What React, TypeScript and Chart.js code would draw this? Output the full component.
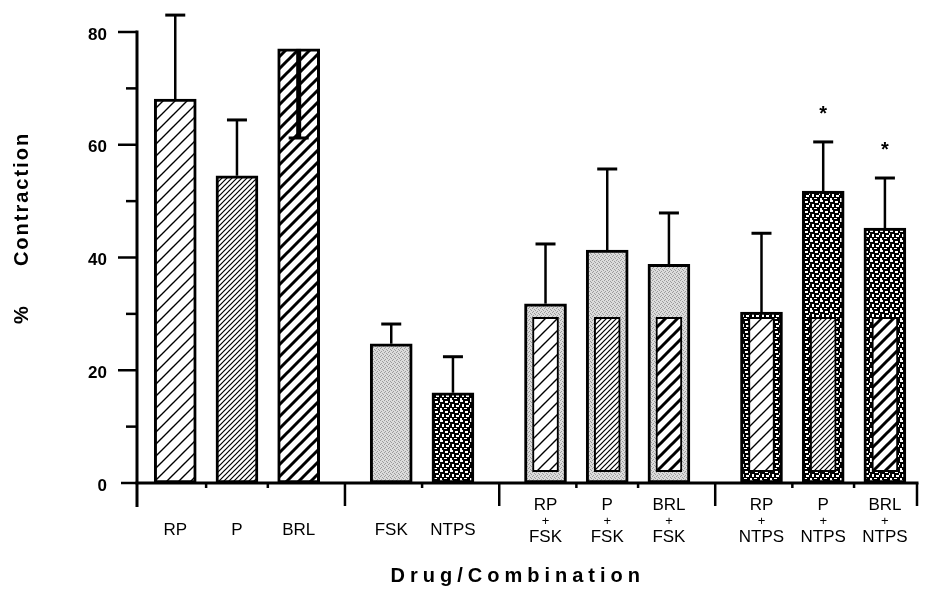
import React, { useEffect, useRef } from "react";
import { Chart, registerables } from "chart.js";

Chart.register(...registerables);

// ---------------- DATA ----------------
const groups: string[][] = [
  ["RP", "P", "BRL"],
  ["FSK", "NTPS"],
  ["RP+FSK", "P+FSK", "BRL+FSK"],
  ["RP+NTPS", "P+NTPS", "BRL+NTPS"],
];
const categories: string[] = groups.flat();
const tickLabels: string[][] = [
  ["RP"], ["P"], ["BRL"],
  ["FSK"], ["NTPS"],
  ["RP", "+", "FSK"], ["P", "+", "FSK"], ["BRL", "+", "FSK"],
  ["RP", "+", "NTPS"], ["P", "+", "NTPS"], ["BRL", "+", "NTPS"],
];
const contraction: number[] = [68.1, 54.5, 77.0, 24.7, 16.0, 31.8, 41.3, 38.8, 30.3, 51.8, 45.2];
const sem: number[] = [14.9, 9.9, 15.8, 3.5, 6.4, 10.6, 14.4, 9.1, 14.0, 8.7, 8.9];
const semDirection: number[] = [1, 1, -1, 1, 1, 1, 1, 1, 1, 1, 1];
const significant: boolean[] = [false, false, false, false, false, false, false, false, false, true, true];
const innerLow: (number | null)[] = [null, null, null, null, null, 2, 2, 2, 2, 2, 2];
const innerHigh: (number | null)[] = [null, null, null, null, null, 29.4, 29.4, 29.4, 29.4, 29.4, 29.4];
const yTickValues: number[] = [0, 20, 40, 60, 80];
const yMinorTickValues: number[] = [10, 30, 50, 70];
const yTitle = "Contraction";
const yTitlePrefix = "%";
const xTitle = "Drug/Combination";

// ---------------- LAYOUT (derived) ----------------
const GROUP_EXTRA = 0.5;
const xPositions: number[] = [];
const separators: number[] = [];
const minorX: number[] = [];
(() => {
  let p = 0;
  groups.forEach((g, gi) => {
    g.forEach((_, k) => {
      xPositions.push(p);
      if (k < g.length - 1) minorX.push(p + 0.5);
      p += 1;
    });
    if (gi < groups.length - 1) separators.push(p - 1 + (1 + GROUP_EXTRA) / 2);
    p += GROUP_EXTRA;
  });
})();

const FONT = "'Liberation Sans', Arial, Helvetica, sans-serif";

function makePatterns(ctx: CanvasRenderingContext2D) {
  const tile = (w: number, h: number, draw: (g: CanvasRenderingContext2D) => void) => {
    const c = document.createElement("canvas");
    c.width = w;
    c.height = h;
    const g = c.getContext("2d")!;
    draw(g);
    return ctx.createPattern(c, "repeat")!;
  };
  const hatch = (period: number, lw: number) =>
    tile(period, period, (g) => {
      g.fillStyle = "#fff";
      g.fillRect(0, 0, period, period);
      g.strokeStyle = "#000";
      g.lineWidth = lw;
      g.beginPath();
      g.moveTo(-1, period + 1);
      g.lineTo(period + 1, -1);
      g.moveTo(-period / 2 - 1, period / 2 + 1);
      g.lineTo(period / 2 + 1, -period / 2 - 1);
      g.moveTo(period / 2 - 1, period * 1.5 + 1);
      g.lineTo(period * 1.5 + 1, period / 2 - 1);
      g.stroke();
    });
  const fsk = tile(4, 4, (g) => {
    g.fillStyle = "#dcdcdc";
    g.fillRect(0, 0, 4, 4);
    g.fillStyle = "#9c9c9c";
    [[0, 0], [2, 1], [1, 3], [3, 2]].forEach(([a, b]) => g.fillRect(a, b, 1, 1));
  });
  const ntps = tile(10, 10, (g) => {
    g.fillStyle = "#000";
    g.fillRect(0, 0, 10, 10);
    g.fillStyle = "#fff";
    g.fillRect(0, 0, 3, 2);
    g.fillRect(5, 1, 3, 2);
    g.fillRect(2, 4, 2, 3);
    g.fillRect(6, 5, 3, 2);
    g.fillRect(0, 8, 2, 2);
    g.fillRect(4, 8, 3, 1);
    g.fillRect(9, 3, 1, 2);
  });
  return {
    RP: hatch(12, 1.4),
    P: hatch(5, 1.2),
    BRL: hatch(12, 3),
    FSK: fsk,
    NTPS: ntps,
  } as Record<string, CanvasPattern>;
}

export default function App() {
  const ref = useRef<HTMLCanvasElement | null>(null);

  useEffect(() => {
    const canvas = ref.current!;
    const ctx = canvas.getContext("2d")!;
    const pats = makePatterns(ctx);
    const parts = categories.map((c) => c.split("+"));
    const outerFill = parts.map((p) => pats[p[p.length - 1]]);
    const innerFill = parts.map((p) => (p.length > 1 ? pats[p[0]] : "rgba(0,0,0,0)"));

    const line = (x1: number, y1: number, x2: number, y2: number) => {
      ctx.beginPath();
      ctx.moveTo(x1, y1);
      ctx.lineTo(x2, y2);
      ctx.stroke();
    };

    const overlay = {
      id: "overlay",
      afterDatasetsDraw(chart: any) {
        const { x, y } = chart.scales;
        ctx.save();
        ctx.strokeStyle = "#000";
        ctx.fillStyle = "#000";
        ctx.lineCap = "butt";
        contraction.forEach((v, i) => {
          const xp = x.getPixelForValue(xPositions[i]);
          const top = y.getPixelForValue(v);
          const end = y.getPixelForValue(v + sem[i] * semDirection[i]);
          ctx.lineWidth = semDirection[i] < 0 ? 5 : 2.5;
          line(xp, top, xp, end);
          ctx.lineWidth = 3;
          line(xp - 10, end, xp + 10, end);
          if (significant[i]) {
            ctx.font = `bold 20px ${FONT}`;
            ctx.textAlign = "center";
            ctx.textBaseline = "alphabetic";
            ctx.fillText("*", xp, end - 22);
          }
        });
        ctx.restore();
      },
      afterDraw(chart: any) {
        const { x, y } = chart.scales;
        const area = chart.chartArea;
        const bottom = y.getPixelForValue(0);
        const top = y.getPixelForValue(80);
        const left = area.left;
        const right = area.right;
        ctx.save();
        ctx.strokeStyle = "#000";
        ctx.fillStyle = "#000";
        ctx.lineCap = "butt";
        // axes
        ctx.lineWidth = 3;
        line(left, top - 1.5, left, bottom + 24);
        line(left - 1.5, bottom, right + 1.5, bottom);
        // y ticks
        ctx.lineWidth = 2.5;
        yTickValues.forEach((t) => {
          const py = y.getPixelForValue(t);
          line(left - (t === 0 ? 16 : 19), py, left, py);
        });
        yMinorTickValues.forEach((t) => {
          const py = y.getPixelForValue(t);
          line(left - 11, py, left, py);
        });
        // group separators
        separators.forEach((s) => {
          const px = x.getPixelForValue(s);
          line(px, bottom, px, bottom + 23);
        });
        line(right, bottom, right, bottom + 23);
        // small ticks between bars
        minorX.forEach((s) => {
          const px = x.getPixelForValue(s);
          line(px, bottom, px, bottom + 5);
        });
        // x labels
        ctx.textAlign = "center";
        ctx.textBaseline = "middle";
        tickLabels.forEach((lines, i) => {
          const px = x.getPixelForValue(xPositions[i]);
          if (lines.length === 1) {
            ctx.font = `17px ${FONT}`;
            ctx.fillText(lines[0], px, bottom + 47);
          } else {
            lines.forEach((t, k) => {
              ctx.font = t === "+" ? `13px ${FONT}` : `17px ${FONT}`;
              ctx.fillText(t, px, bottom + 22 + k * 16);
            });
          }
        });
        // x title
        ctx.font = `bold 20px ${FONT}`;
        (ctx as any).letterSpacing = "5px";
        ctx.textBaseline = "alphabetic";
        ctx.fillText(xTitle, left + (right - left) * 0.485 + 2.5, bottom + 99);
        // y title
        (ctx as any).letterSpacing = "2px";
        ctx.translate(28, 200);
        ctx.rotate(-Math.PI / 2);
        ctx.fillText(yTitle, 1, 0);
        (ctx as any).letterSpacing = "0px";
        ctx.fillText(yTitlePrefix, -115, 0);
        ctx.restore();
      },
    };

    const chart = new Chart(ctx, {
      type: "bar",
      data: {
        datasets: [
          {
            label: "inner",
            data: categories.map((_, i) => ({
              x: xPositions[i],
              y: innerLow[i] === null ? null : [innerLow[i], innerHigh[i]],
            })) as any,
            backgroundColor: innerFill as any,
            borderColor: "#000",
            borderWidth: 2,
            borderSkipped: false,
            barThickness: 26,
            grouped: false,
            order: 1,
          },
          {
            label: "% Contraction",
            data: categories.map((_, i) => ({ x: xPositions[i], y: contraction[i] })) as any,
            backgroundColor: outerFill as any,
            borderColor: "#000",
            borderWidth: 3,
            borderSkipped: false,
            barThickness: 42,
            grouped: false,
            order: 2,
          },
        ],
      },
      options: {
        responsive: false,
        animation: false,
        events: [],
        layout: { padding: { top: 32, right: 8, bottom: 0, left: 0 } },
        plugins: { legend: { display: false }, tooltip: { enabled: false } },
        scales: {
          x: {
            type: "linear",
            min: -0.62,
            max: 12.02,
            offset: false,
            grid: { display: false, drawTicks: false },
            border: { display: false },
            ticks: { display: false },
            afterFit: (s: any) => {
              s.height = 107;
            },
          },
          y: {
            min: 0,
            max: 80,
            grid: { display: false, drawTicks: true, tickLength: 30 },
            border: { display: false },
            ticks: {
              stepSize: 20,
              padding: 0,
              labelOffset: 3,
              color: "#000",
              font: { family: FONT, size: 17, weight: "bold" },
            },
            afterFit: (s: any) => {
              s.width = 137;
            },
          },
        },
      },
      plugins: [overlay],
    });
    return () => chart.destroy();
  }, []);

  return (
    <div style={{ position: "fixed", left: 0, top: 0, width: 925, height: 590, background: "#fff" }}>
      <canvas ref={ref} width={925} height={590} style={{ display: "block" }} />
    </div>
  );
}
